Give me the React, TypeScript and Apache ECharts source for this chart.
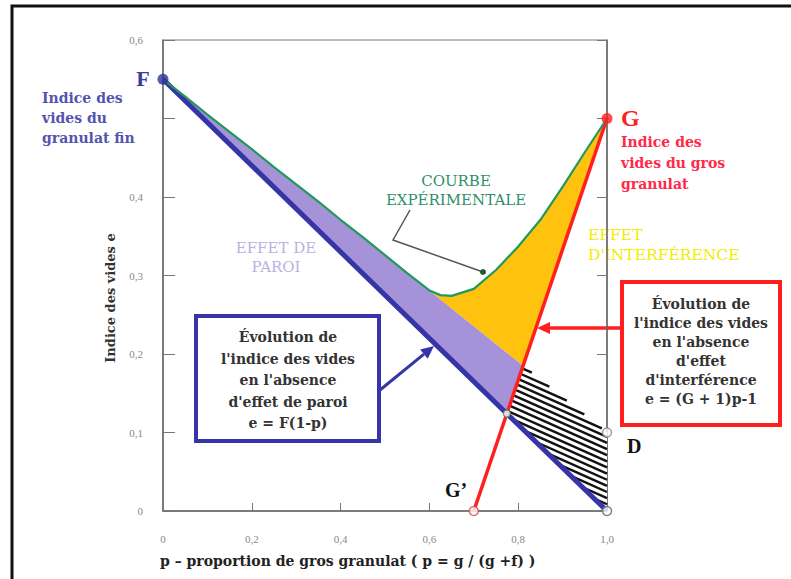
import React, { useEffect, useRef } from "react";
import * as echarts from "echarts";

// ---- data ----
const F_VOID = 0.55; // indice des vides du granulat fin
const G_VOID = 0.5; // indice des vides du gros granulat
const D_VOID = 0.1; // point D at p = 1
const G_PRIME_P = 0.7; // G' on the p axis

const curveP = [0, 0.05, 0.1, 0.15, 0.2, 0.25, 0.3, 0.35, 0.4, 0.45, 0.5, 0.55, 0.6, 0.625, 0.65, 0.7, 0.75, 0.8, 0.85, 0.9, 0.95, 1.0];
const curveE = [0.55, 0.528, 0.505, 0.483, 0.461, 0.438, 0.416, 0.394, 0.371, 0.349, 0.326, 0.303, 0.281, 0.275, 0.274, 0.283, 0.307, 0.337, 0.371, 0.413, 0.457, 0.5];

const xTickValues = [0, 0.2, 0.4, 0.6, 0.8, 1.0];
const xTickLabels = ["0", "0,2", "0,4", "0,6", "0,8", "1,0"];
const yTickValues = [0, 0.1, 0.2, 0.3, 0.4, 0.5, 0.6];
const yTickLabels = ["0", "0,1", "0,2", "0,3", "0,4", "", "0,6"];

const SERIF = "'Liberation Serif', 'DejaVu Serif', serif";
const WIDE = "'DejaVu Serif', 'Liberation Serif', serif";

// derived lines
const k = G_VOID / (1 - G_PRIME_P);
const pA = (F_VOID + k * G_PRIME_P) / (F_VOID + k);
const A: [number, number] = [pA, F_VOID * (1 - pA)];
const pB = (F_VOID + k * G_PRIME_P) / (F_VOID - D_VOID + k);
const B: [number, number] = [pB, F_VOID - (F_VOID - D_VOID) * pB];

const curvePts: [number, number][] = curveP.map((p, i) => [p, curveE[i]]);
const splitIdx = curveP.indexOf(0.6);
const purplePoly: [number, number][] = [...curvePts.slice(0, splitIdx + 1), B, A];
const yellowPoly: [number, number][] = [...curvePts.slice(splitIdx), B];
const hatchPoly: [number, number][] = [A, B, [1, D_VOID], [1, 0]];

// stripes clipped to a convex polygon given in pixels
function hatchLines(pts: number[][], angleDeg: number, spacing: number) {
  const t = (angleDeg * Math.PI) / 180;
  const d = [Math.cos(t), Math.sin(t)];
  const n = [-d[1], d[0]];
  const cx = pts.reduce((s, q) => s + q[0], 0) / pts.length;
  const cy = pts.reduce((s, q) => s + q[1], 0) / pts.length;
  const proj = pts.map((q) => (q[0] - cx) * n[0] + (q[1] - cy) * n[1]);
  const mn = Math.min(...proj);
  const mx = Math.max(...proj);
  const out: any[] = [];
  for (let c = mn + spacing * 0.5; c < mx; c += spacing) {
    // line: origin O = centroid + c*n, direction d
    const ox = cx + c * n[0];
    const oy = cy + c * n[1];
    let tMin = -1e9;
    let tMax = 1e9;
    let ok = true;
    for (let i = 0; i < pts.length; i++) {
      const P = pts[i];
      const Q = pts[(i + 1) % pts.length];
      // inward normal of edge: polygon centroid side
      let ex = Q[0] - P[0];
      let ey = Q[1] - P[1];
      let nx = -ey;
      let ny = ex;
      if ((cx - P[0]) * nx + (cy - P[1]) * ny < 0) {
        nx = -nx;
        ny = -ny;
      }
      const num = (ox - P[0]) * nx + (oy - P[1]) * ny; // >=0 inside
      const den = d[0] * nx + d[1] * ny;
      if (Math.abs(den) < 1e-9) {
        if (num < 0) ok = false;
        continue;
      }
      const tt = -num / den;
      if (den > 0) tMin = Math.max(tMin, tt);
      else tMax = Math.min(tMax, tt);
    }
    if (ok && tMax > tMin) {
      out.push({
        type: "line",
        shape: {
          x1: ox + tMin * d[0],
          y1: oy + tMin * d[1],
          x2: ox + tMax * d[0],
          y2: oy + tMax * d[1],
        },
        style: { stroke: "#111", lineWidth: 2.4 },
      });
    }
  }
  return out;
}

function arrow(x1: number, y1: number, x2: number, y2: number, color: string, w: number) {
  const a = Math.atan2(y2 - y1, x2 - x1);
  const L = 13;
  const W = 6;
  const bx = x2 - L * Math.cos(a);
  const by = y2 - L * Math.sin(a);
  return [
    { type: "line", shape: { x1, y1, x2: bx, y2: by }, style: { stroke: color, lineWidth: w } },
    {
      type: "polygon",
      shape: {
        points: [
          [x2, y2],
          [bx - W * Math.sin(a), by + W * Math.cos(a)],
          [bx + W * Math.sin(a), by - W * Math.cos(a)],
        ],
      },
      style: { fill: color },
    },
  ];
}

function txt(x: number, y: number, text: string, size: number, color: string, opts: any = {}) {
  return {
    type: "text",
    x,
    y,
    rotation: opts.rotation || 0,
    style: {
      text,
      fill: color,
      fontSize: size,
      fontFamily: opts.family || WIDE,
      fontWeight: opts.weight || "bold",
      align: opts.align || "left",
      verticalAlign: opts.valign || "middle",
      lineHeight: opts.lineHeight || size * 1.2,
    },
  };
}

export default function App() {
  const ref = useRef<HTMLDivElement>(null);
  useEffect(() => {
    if (!ref.current) return;
    const chart = echarts.init(ref.current, undefined, { renderer: "svg" });
    const polySeries = (name: string, poly: [number, number][], fill: string, hatch: boolean, z: number) => ({
      type: "custom",
      name,
      coordinateSystem: "cartesian2d",
      clip: false,
      z,
      silent: true,
      data: [[0, 0]],
      renderItem: (_p: any, api: any) => {
        const px = poly.map((q) => api.coord(q));
        const children: any[] = [
          { type: "polygon", shape: { points: px }, style: { fill, stroke: "none" } },
        ];
        if (hatch) children.push(...hatchLines(px, 24, 5.6));
        return { type: "group", children };
      },
    });

    chart.setOption({
      animation: false,
      backgroundColor: "#fff",
      grid: { left: 163, right: 184, top: 40, bottom: 68, show: true, borderColor: "#777", borderWidth: 1 },
      xAxis: {
        type: "value",
        min: 0,
        max: 1,
        interval: 0.2,
        axisLine: { lineStyle: { color: "#666", width: 1.5 } },
        axisTick: { inside: true, length: 8, lineStyle: { color: "#777" } },
        splitLine: { show: false },
        axisLabel: {
          margin: 22,
          color: "#888",
          fontSize: 11,
          fontFamily: SERIF,
          formatter: (v: number) => {
            const i = xTickValues.findIndex((t) => Math.abs(t - v) < 1e-6);
            return i >= 0 ? xTickLabels[i] : "";
          },
        },
      },
      yAxis: [
        {
          type: "value",
          min: 0,
          max: 0.6,
          interval: 0.1,
          axisLine: { show: true, lineStyle: { color: "#666", width: 1.5 } },
          axisTick: { show: true, inside: true, length: 12, lineStyle: { color: "#777" } },
          splitLine: { show: false },
          axisLabel: {
            margin: 20,
            color: "#888",
            fontSize: 11,
            fontFamily: SERIF,
            formatter: (v: number) => {
              const i = yTickValues.findIndex((t) => Math.abs(t - v) < 1e-6);
              return i >= 0 ? yTickLabels[i] : "";
            },
          },
        },
        {
          type: "value",
          position: "right",
          min: 0,
          max: 0.6,
          interval: 0.1,
          axisLine: { show: true, lineStyle: { color: "#666", width: 1.5 } },
          axisTick: { show: true, inside: true, length: 10, lineStyle: { color: "#777" } },
          axisLabel: { show: false },
          splitLine: { show: false },
        },
      ],
      series: [
        polySeries("purple", purplePoly, "#a592d8", false, 1),
        polySeries("yellow", yellowPoly, "#ffc20e", false, 1),
        polySeries("hatch", hatchPoly, "#ffffff", true, 2),
        {
          type: "line",
          name: "blue",
          z: 3,
          data: [
            [0, F_VOID],
            [1, 0],
          ],
          symbol: "none",
          lineStyle: { color: "#3535a8", width: 5 },
        },
        {
          type: "line",
          name: "red",
          z: 4,
          data: [
            [G_PRIME_P, 0],
            [1, G_VOID],
          ],
          symbol: "none",
          lineStyle: { color: "#ff1f1f", width: 3.5 },
        },
        {
          type: "line",
          name: "courbe",
          z: 4,
          data: curvePts,
          symbol: "none",
          lineStyle: { color: "#1f9a5c", width: 2.2 },
        },
        {
          type: "scatter",
          z: 6,
          symbolSize: 11,
          data: [
            { value: [0, F_VOID], itemStyle: { color: "#2f2f99" } },
            { value: [1, G_VOID], itemStyle: { color: "#ff1f1f" } },
          ],
        },
        {
          type: "scatter",
          z: 6,
          symbolSize: 9,
          data: [
            { value: [G_PRIME_P, 0], itemStyle: { color: "#fff", borderColor: "#e04a4a", borderWidth: 1.5 } },
            { value: [1, 0], itemStyle: { color: "#fff", borderColor: "#666", borderWidth: 1.5 } },
            { value: [1, D_VOID], itemStyle: { color: "#fff", borderColor: "#888", borderWidth: 1.5 } },
            { value: A, symbolSize: 7, itemStyle: { color: "#fff", borderColor: "#3a8a5a", borderWidth: 1.2 } },
          ],
        },
      ],
      graphic: [
        {
          type: "polyline",
          shape: { points: [[12, 579], [12, 6], [791, 6]] },
          style: { stroke: "#111", lineWidth: 3, fill: null },
        },
        txt(143, 78, "F", 22, "#3a3aa0", { align: "center", family: SERIF }),
        txt(42, 118, "Indice des\nvides du\ngranulat fin", 14, "#5454ae", { lineHeight: 20 }),
        txt(621, 118, "G", 24, "#ff1f1f", { family: SERIF }),
        txt(621, 163, "Indice des\nvides du gros\ngranulat", 14, "#ff2a4a", { lineHeight: 21 }),
        txt(456, 190, "COURBE\nEXPÉRIMENTALE", 15, "#2f8f6a", { align: "center", weight: "normal", lineHeight: 19 }),
        {
          type: "polyline",
          shape: { points: [[410, 210], [393, 240], [483, 272]] },
          style: { stroke: "#555", lineWidth: 1.5, fill: null },
        },
        { type: "circle", shape: { cx: 483, cy: 272, r: 3 }, style: { fill: "#1c5a3a" } },
        txt(276, 257, "EFFET DE\nPAROI", 15, "#b9b2e2", { align: "center", weight: "normal", lineHeight: 19 }),
        txt(588, 245, "EFFET\nD'INTERFÉRENCE", 15.5, "#f2ec00", { weight: "normal", lineHeight: 20 }),
        {
          type: "rect",
          shape: { x: 196, y: 316, width: 183, height: 125 },
          style: { fill: "#fff", stroke: "#3535a8", lineWidth: 4 },
        },
        txt(288, 380, "Évolution de\nl'indice des vides\nen l'absence\nd'effet de paroi\ne = F(1-p)", 14, "#333", {
          align: "center",
          lineHeight: 21.5,
        }),
        ...arrow(380, 390, 434, 346, "#3535a8", 3),
        {
          type: "rect",
          shape: { x: 622, y: 282, width: 158, height: 143 },
          style: { fill: "#fff", stroke: "#ff1f1f", lineWidth: 4 },
        },
        txt(701, 351, "Évolution de\nl'indice des vides\nen l'absence\nd'effet\nd'interférence\ne = (G + 1)p-1", 14, "#333", {
          align: "center",
          lineHeight: 19,
        }),
        ...arrow(621, 328, 537, 328, "#ff1f1f", 3.5),
        txt(627, 446, "D", 20, "#111", { family: SERIF }),
        txt(445, 490, "G’", 20, "#111", { family: SERIF }),
        txt(110, 298, "Indice des vides e", 13, "#333", { align: "center", rotation: Math.PI / 2 }),
        txt(160, 561, "p – proportion de gros granulat ( p = g / (g +f) )", 14, "#222"),
      ],
    });
    return () => chart.dispose();
  }, []);
  return <div ref={ref} style={{ position: "fixed", left: 0, top: 0, width: 791, height: 579 }} />;
}
